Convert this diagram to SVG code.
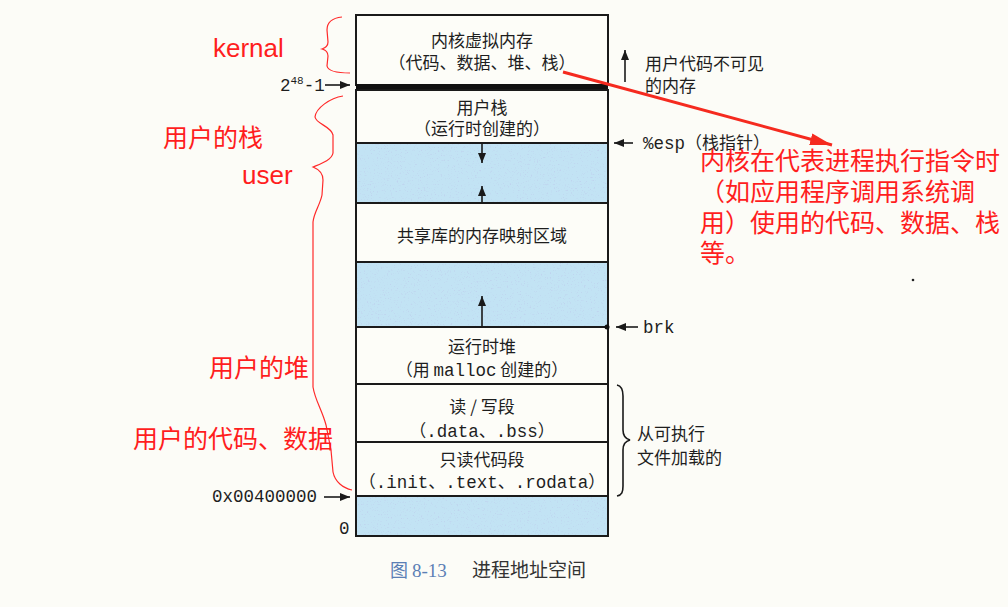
<svg xmlns="http://www.w3.org/2000/svg" width="1008" height="607" viewBox="0 0 1008 607">
<defs>
<style>
.cjk{font-family:"Noto Sans CJK SC","Noto Sans",sans-serif;font-size:17px;fill:#1e1e1e}
.mono{font-family:"Liberation Mono","DejaVu Sans Mono",monospace;font-size:17.5px;fill:#1e1e1e}
.red{font-family:"Noto Sans CJK SC","Noto Sans",sans-serif;font-size:25px;fill:#ff1e1e}
.redl{font-family:"Liberation Sans","Noto Sans",sans-serif;font-size:26px;fill:#ff1e1e}
.sec{fill:#fdfdf8;stroke:#1a1a1a;stroke-width:2}
.blue{fill:#c2e3f4}
.spk{fill:#000;filter:url(#spk)}
.edge{fill:none;stroke:#1a1a1a;stroke-width:2}
.arr{stroke:#1a1a1a;stroke-width:1.6;fill:none;marker-end:url(#ah)}
.brace{fill:none;stroke:#ff2a2a;stroke-width:1.2}
</style>
<filter id="spk" x="0" y="0" width="1" height="1" filterUnits="objectBoundingBox">
<feTurbulence type="fractalNoise" baseFrequency="0.7" numOctaves="2" seed="7" result="n"/>
<feColorMatrix in="n" type="matrix" values="0 0 0 0 0.52  0 0 0 0 0.66  0 0 0 0 0.86  5 0 0 0 -3.0"/>
</filter>
<marker id="ah" viewBox="0 0 10 8" refX="10" refY="4" markerWidth="10" markerHeight="8" markerUnits="userSpaceOnUse" orient="auto"><path d="M0,0 L10,4 L0,8 z" fill="#1a1a1a"/></marker>
<marker id="rh" viewBox="0 0 22 12" refX="22" refY="6" markerWidth="22" markerHeight="12" markerUnits="userSpaceOnUse" orient="auto"><path d="M0,0 L22,6 L0,12 z" fill="#f52a1f"/></marker>
</defs>
<rect x="0" y="0" width="1008" height="607" fill="#fcfcf7"/>

<g id="kernel">
<rect class="sec" x="356" y="15" width="252" height="70"/>
<text class="cjk" x="482" y="46.5" text-anchor="middle">内核虚拟内存</text>
<text class="cjk" x="482" y="68.5" text-anchor="middle">（代码、数据、堆、栈）</text>
</g>
<g id="boundary">
<rect x="356" y="84" width="252" height="6" fill="#111"/>
</g>
<g id="user-stack">
<rect class="sec" x="356" y="90" width="252" height="53"/>
<text class="cjk" x="482" y="114" text-anchor="middle">用户栈</text>
<text class="cjk" x="482" y="135" text-anchor="middle">（运行时创建的）</text>
</g>
<g id="gap1">
<rect class="blue" x="356" y="143" width="252" height="60"/>
<rect class="spk" x="357" y="144" width="250" height="58"/>
<rect class="edge" x="356" y="143" width="252" height="60"/>
</g>
<g id="shared-lib">
<rect class="sec" x="356" y="203" width="252" height="59"/>
<text class="cjk" x="482" y="241.5" text-anchor="middle">共享库的内存映射区域</text>
</g>
<g id="gap2">
<rect class="blue" x="356" y="262" width="252" height="65"/>
<rect class="spk" x="357" y="263" width="250" height="63"/>
<rect class="edge" x="356" y="262" width="252" height="65"/>
</g>
<g id="heap">
<rect class="sec" x="356" y="327" width="252" height="57"/>
<text class="cjk" x="482" y="353" text-anchor="middle">运行时堆</text>
<text class="cjk" x="482" y="376" text-anchor="middle">（用 <tspan class="mono">malloc</tspan> 创建的）</text>
</g>
<g id="rw">
<rect class="sec" x="356" y="384" width="252" height="58"/>
<text class="cjk" x="482" y="413" text-anchor="middle">读 / 写段</text>
<text class="cjk" x="482" y="437" text-anchor="middle">（<tspan class="mono">.data</tspan>、<tspan class="mono">.bss</tspan>）</text>
</g>
<g id="ro">
<rect class="sec" x="356" y="442" width="252" height="54"/>
<text class="cjk" x="482" y="466" text-anchor="middle">只读代码段</text>
<text class="cjk" x="482" y="488" text-anchor="middle">（<tspan class="mono">.init</tspan>、<tspan class="mono">.text</tspan>、<tspan class="mono">.rodata</tspan>）</text>
</g>
<g id="gap3">
<rect class="blue" x="356" y="496" width="252" height="40"/>
<rect class="spk" x="357" y="497" width="250" height="38"/>
<rect class="edge" x="356" y="496" width="252" height="40"/>
</g>

<g id="labels">
<text class="mono" x="280" y="91">2<tspan font-size="11" dy="-7">48</tspan><tspan dy="7">-1</tspan></text>
<text class="mono" x="212" y="502">0x00400000</text>
<text class="mono" x="339" y="534">0</text>
<text class="cjk" x="645" y="69.5">用户代码不可见</text>
<text class="cjk" x="645" y="91.5">的内存</text>
<text class="cjk" x="643" y="149"><tspan class="mono">%esp</tspan>（栈指针）</text>
<text class="mono" x="643" y="333">brk</text>
<text class="cjk" x="637" y="439.5">从可执行</text>
<text class="cjk" x="637" y="463.5">文件加载的</text>
<path d="M617,385 C622,386 623,390 623,396 L623,430 C623,436 626,439 630,440 C626,441 623,444 623,450 L623,486 C623,492 622,495 617,496" fill="none" stroke="#1a1a1a" stroke-width="1.6"/>
<circle cx="607" cy="327" r="2.5" fill="#111"/>
<circle cx="913" cy="280" r="1.3" fill="#222"/>
</g>

<g id="caption">
<text x="390" y="577" font-family="Noto Sans CJK SC,sans-serif" font-size="18" fill="#5b7fb5">图 <tspan font-family="Liberation Serif,serif" font-size="19">8-13</tspan></text>
<text x="472" y="577" font-family="Noto Sans CJK SC,sans-serif" font-size="19" fill="#333">进程地址空间</text>
</g>

<g id="connectors">
<line class="arr" x1="325" y1="85" x2="350" y2="85"/>
<line class="arr" x1="324" y1="497" x2="350" y2="497"/>
<line class="arr" x1="633" y1="143" x2="614" y2="143"/>
<line class="arr" x1="638" y1="327" x2="616" y2="327"/>
<line class="arr" x1="625" y1="82" x2="625" y2="50"/>
<line class="arr" x1="482" y1="143" x2="482" y2="163"/>
<line class="arr" x1="482" y1="203" x2="482" y2="186"/>
<line class="arr" x1="482" y1="327" x2="482" y2="296"/>
<line x1="563" y1="72" x2="832" y2="145" stroke="#f52a1f" stroke-width="3" marker-end="url(#rh)"/>
</g>

<g id="annotations">
<path class="brace" d="M342,17 C332,18 327,22 327,30 L328,42 C328,46 325,48 322,49 C326,50 328,52 328,56 L327,66 C328,71 335,73 350,73"/>
<path class="brace" d="M343,96 C330,98 316,108 315,117 C316,124 331,126 333,135 L333,153 C332,160 320,164 313,167 C318,169 323,173 323,180 L322,195 C320,205 314,212 313,222 L313,387 C315,400 322,410 326,425 L331,450 L333,472 C335,482 343,488 352,490"/>
<text class="redl" x="213" y="57">kernal</text>
<text class="red" x="163" y="146.5">用户的栈</text>
<text class="redl" x="242" y="184">user</text>
<text class="red" x="209" y="376.5">用户的堆</text>
<text class="red" x="133" y="447.5">用户的代码、数据</text>
<text class="red" x="700" y="169.5">内核在代表进程执行指令时</text>
<text class="red" x="700" y="200.5">（如应用程序调用系统调</text>
<text class="red" x="700" y="231.5">用）使用的代码、数据、栈</text>
<text class="red" x="700" y="261.5">等。</text>
</g>
</svg>
